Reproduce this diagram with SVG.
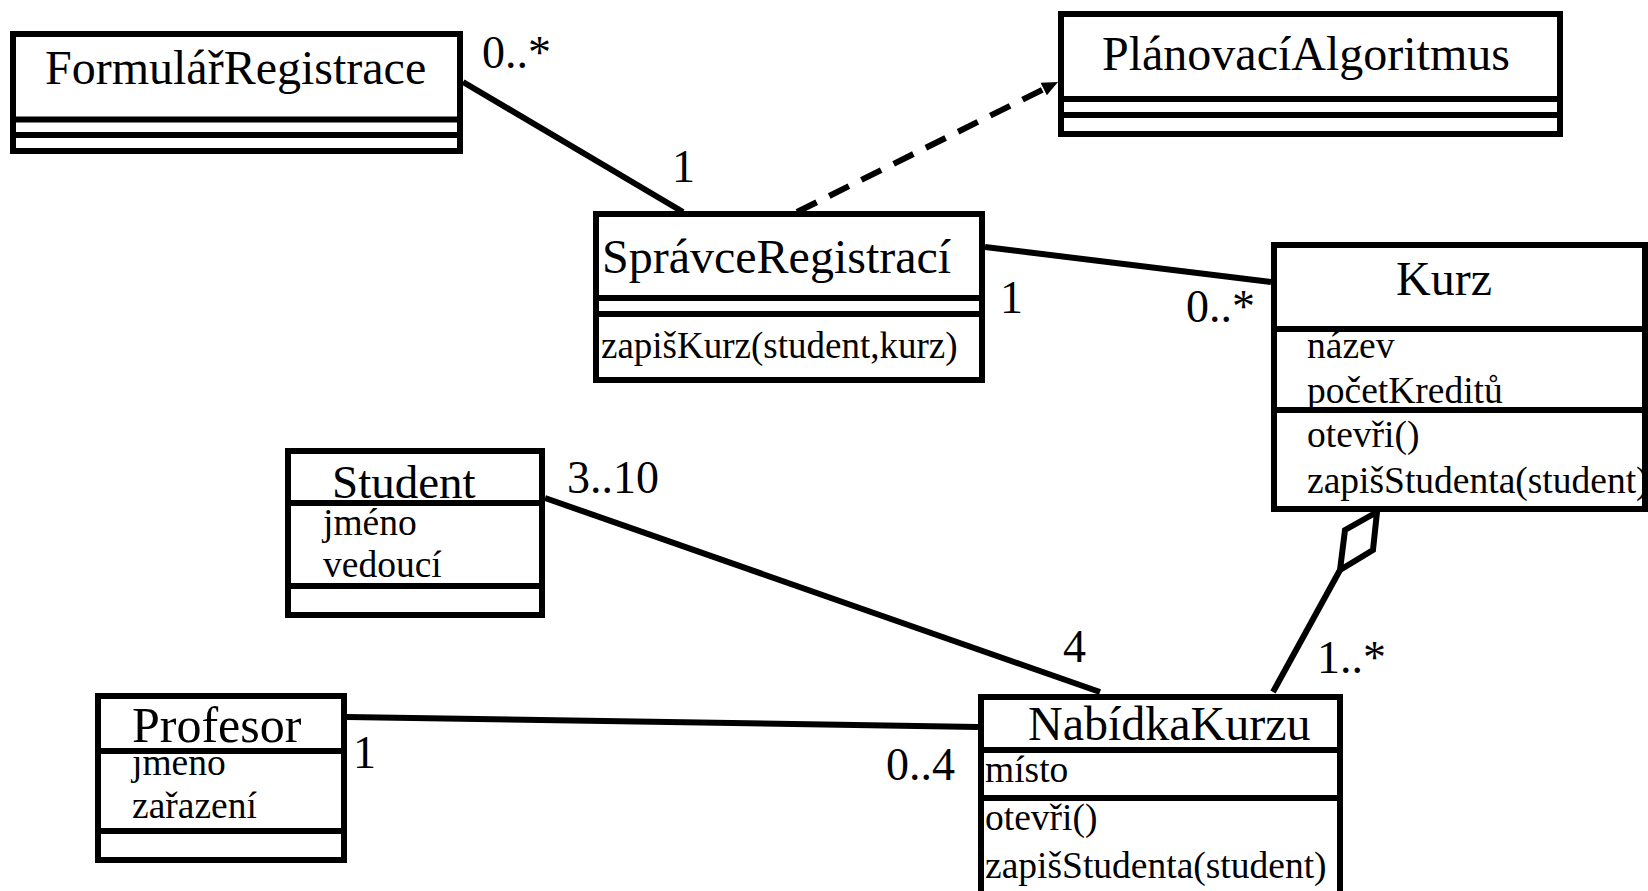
<svg xmlns="http://www.w3.org/2000/svg" width="1648" height="891" viewBox="0 0 1648 891">
<style>
.box{fill:#fff;stroke:#000;stroke-width:6}
.div{stroke:#000;stroke-width:6}
.ln{stroke:#000;stroke-width:6;fill:none}
text{font-family:"Liberation Serif","Times New Roman",serif;fill:#000}
.t{font-size:48px}
.a{font-size:37.5px}
.m{font-size:46px}
</style>
<defs>
<marker id="arr" markerWidth="18" markerHeight="16" refX="2" refY="8" orient="auto" markerUnits="userSpaceOnUse">
<path d="M0,1 L16,8 L0,15 Z" fill="#000"/>
</marker>
</defs>
<rect width="1648" height="891" fill="#fff"/>
<g id="connectors">
<line class="ln" x1="463" y1="82" x2="683" y2="212"/>
<line class="ln" x1="797" y1="212" x2="1045.5" y2="88.2" stroke-dasharray="22,14" marker-end="url(#arr)"/>
<line class="ln" x1="985" y1="247" x2="1271" y2="282"/>
<line class="ln" x1="545" y1="498" x2="1100" y2="692"/>
<line class="ln" x1="347" y1="717" x2="978" y2="727"/>
<line class="ln" x1="1340" y1="570" x2="1273" y2="692"/>
<polygon class="ln" points="1377,512 1345,530 1340,570 1373,550" style="fill:#fff"/>
<text class="m" x="482" y="68">0..*</text>
<text class="m" x="672" y="182">1</text>
<text class="m" x="1000" y="313">1</text>
<text class="m" x="1186" y="322">0..*</text>
<text class="m" x="567" y="493">3..10</text>
<text class="m" x="1063" y="662">4</text>
<text class="m" x="1317" y="673">1..*</text>
<text class="m" x="353" y="768">1</text>
<text class="m" x="886" y="780">0..4</text>
</g>
<g id="FormularRegistrace">
<rect class="box" x="13" y="34" width="447" height="117"/>
<line class="div" x1="13" y1="119.5" x2="460" y2="119.5"/>
<line class="div" x1="13" y1="135" x2="460" y2="135"/>
<text class="t" x="45" y="84">FormulářRegistrace</text>
</g>
<g id="PlanovaciAlgoritmus">
<rect class="box" x="1061" y="14" width="499" height="120"/>
<line class="div" x1="1061" y1="99" x2="1560" y2="99"/>
<line class="div" x1="1061" y1="115" x2="1560" y2="115"/>
<text class="t" x="1102" y="70">PlánovacíAlgoritmus</text>
</g>
<g id="SpravceRegistraci">
<rect class="box" x="596" y="214" width="386" height="166"/>
<line class="div" x1="596" y1="298" x2="982" y2="298"/>
<line class="div" x1="596" y1="314" x2="982" y2="314"/>
<text class="t" x="602" y="273">SprávceRegistrací</text>
<text style="font-size:37px" x="601" y="358">zapišKurz(student,kurz)</text>
</g>
<g id="Kurz">
<rect class="box" x="1274" y="245" width="371" height="264"/>
<line class="div" x1="1274" y1="329" x2="1645" y2="329"/>
<line class="div" x1="1274" y1="410" x2="1645" y2="410"/>
<text class="t" x="1444" y="295" text-anchor="middle">Kurz</text>
<text class="a" x="1307" y="358">název</text>
<text class="a" x="1307" y="403">početKreditů</text>
<text class="a" x="1307" y="447">otevři()</text>
<text class="a" x="1307" y="493">zapišStudenta(student)</text>
</g>
<g id="Student">
<rect class="box" x="288" y="451" width="254" height="164"/>
<line class="div" x1="288" y1="503" x2="542" y2="503"/>
<line class="div" x1="288" y1="586" x2="542" y2="586"/>
<text style="font-size:47px" x="332" y="498">Student</text>
<text class="a" x="323" y="535">jméno</text>
<text class="a" x="323" y="577">vedoucí</text>
</g>
<g id="Profesor">
<rect class="box" x="98" y="696" width="246" height="164"/>
<line class="div" x1="98" y1="751" x2="344" y2="751"/>
<line class="div" x1="98" y1="831" x2="344" y2="831"/>
<text style="font-size:50px" x="132" y="742">Profesor</text>
<text class="a" x="132" y="775">jméno</text>
<text class="a" x="132" y="818">zařazení</text>
</g>
<g id="NabidkaKurzu">
<rect class="box" x="981" y="697" width="359" height="210"/>
<line class="div" x1="981" y1="750" x2="1340" y2="750"/>
<line class="div" x1="981" y1="798" x2="1340" y2="798"/>
<text class="t" x="1028" y="740">NabídkaKurzu</text>
<text class="a" x="985" y="782">místo</text>
<text class="a" x="985" y="830">otevři()</text>
<text class="a" x="985" y="878">zapišStudenta(student)</text>
</g>
</svg>
